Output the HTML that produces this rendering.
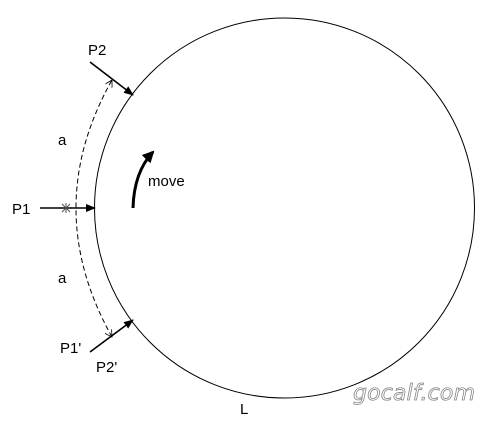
<!DOCTYPE html>
<html><head><meta charset="utf-8"><style>
body{margin:0;background:#fff}
svg{display:block;font-family:"Liberation Sans",sans-serif}
</style></head><body>
<svg width="500" height="425" viewBox="0 0 500 425">
<defs>
<marker id="ah" markerWidth="10" markerHeight="8" refX="9" refY="4" orient="auto" markerUnits="userSpaceOnUse" viewBox="0 0 10 8"><path d="M0,0 L10,4 L0,8 Z" fill="#000"/></marker>
<marker id="ahs" markerWidth="8" markerHeight="8" refX="7" refY="4" orient="auto" markerUnits="userSpaceOnUse" viewBox="0 0 8 8"><path d="M0,0 L7,4 L0,8" fill="none" stroke="#000" stroke-width="0.8"/></marker>
<marker id="ahb" markerWidth="14" markerHeight="12" refX="10" refY="6" orient="auto" markerUnits="userSpaceOnUse" viewBox="0 0 14 12"><path d="M0,0 L12,6 L0,12 Z" fill="#000"/></marker>
</defs>
<circle cx="284.5" cy="208" r="190" fill="none" stroke="#000" stroke-width="1"/>
<path d="M112,337 Q40,208 112,80" fill="none" stroke="#000" stroke-width="1" stroke-dasharray="5,3" marker-end="url(#ahs)"/>
<path d="M66,208 Q75,280 112,337" fill="none" stroke="none" marker-end="url(#ahs)"/>
<line x1="90" y1="62" x2="133" y2="95" stroke="#000" stroke-width="1.6" marker-end="url(#ah)"/>
<line x1="40" y1="208" x2="95" y2="208" stroke="#000" stroke-width="1.6" marker-end="url(#ah)"/>
<line x1="90" y1="352" x2="133" y2="320" stroke="#000" stroke-width="1.6" marker-end="url(#ah)"/>
<path d="M62,204 L70,212 M70,204 L62,212 M66,203 L66,213" stroke="#555" stroke-width="1"/>
<path d="M133,208 Q134,172 153,152" fill="none" stroke="#000" stroke-width="3" marker-end="url(#ahb)"/>
<g font-size="15" fill="#000">
<text x="88" y="55">P2</text>
<text x="58" y="145">a</text>
<text x="12" y="214">P1</text>
<text x="58" y="283">a</text>
<text x="60" y="353">P1'</text>
<text x="96" y="372">P2'</text>
<text x="148" y="186">move</text>
<text x="240" y="414">L</text>
</g>
<text x="353" y="400" font-size="22" font-style="italic" fill="none" stroke="#888" stroke-width="0.8" font-family="'DejaVu Sans',sans-serif" textLength="122">gocalf.com</text>
</svg>
</body></html>
